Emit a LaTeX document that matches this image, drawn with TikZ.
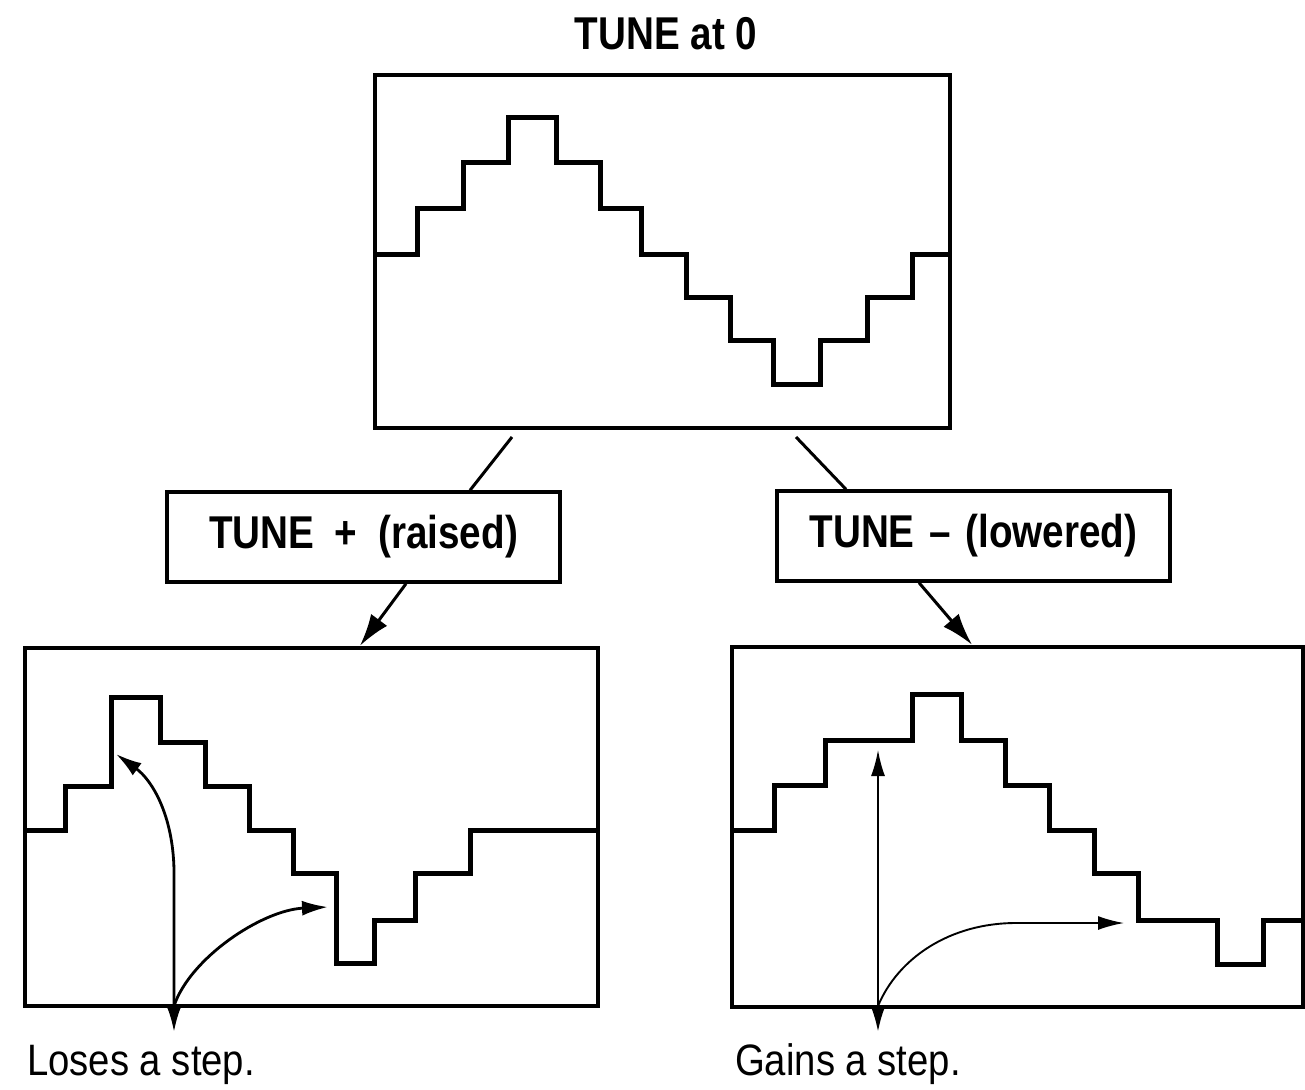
\documentclass[tikz,border=0pt]{standalone}
\usepackage{fontspec}
\setmainfont{Liberation Sans}
\newfontfamily\condfont[FakeStretch=0.84,Ligatures=TeX]{Liberation Sans}
\newfontfamily\condreg[FakeStretch=0.87,Ligatures=TeX]{Liberation Sans}
\usetikzlibrary{arrows.meta}
\begin{document}
\begin{tikzpicture}[x=1pt,y=-1pt,
  screen/.style={draw,line width=4.6pt,inner sep=0pt},
  lbl/.style={draw,line width=3.4pt,minimum width=393pt,minimum height=90pt,inner sep=0pt,
    font=\condfont\bfseries\fontsize{46}{50}\selectfont},
  wave/.style={line width=5pt,line join=miter},
  conn/.style={line width=3pt},
  tipconn/.style={line width=3pt,arrows={-Latex[length=32pt,width=20pt]}},
  note/.style={line width=2.8pt,arrows={-Latex[length=26pt,width=15pt]}},
  thinnote/.style={line width=1.9pt,arrows={-Latex[length=26pt,width=14pt]}},
  caption/.style={font=\condreg\fontsize{44}{48}\selectfont,inner sep=0pt,anchor=base west}]
\useasboundingbox (0,0) rectangle (1305,1089);
\clip (0,0) rectangle (1305,1089);

% title
\node[font=\condfont\bfseries\fontsize{46}{50}\selectfont,inner sep=0pt,anchor=base] (title) at (666,50) {TUNE at 0};

% screens
\node[screen,minimum width=575pt,minimum height=353pt] (top) at (662.5,251.5) {};
\node[screen,minimum width=573pt,minimum height=358pt] (bl) at (311.5,827) {};
\node[screen,minimum width=571pt,minimum height=360pt] (br) at (1017.5,827) {};

% label boxes
\node[lbl] (lblL) at (363.5,537) {TUNE\hspace{10pt} +\hspace{10pt} (raised)};
\node[lbl] (lblR) at (973.5,536) {TUNE\hspace{4pt} \textendash\hspace{4pt} (lowered)};

% staircases
\draw[wave] (375,254) -| (417,208) -| (463,162) -| (508,118) -| (556,162) -| (600,208)
  -| (641,254) -| (686,297) -| (730,340) -| (773,384) -| (820,340) -| (867,297)
  -| (912,254) -- (950,254);
\draw[wave] (25,830) -| (65,786) -| (111,697) -| (160,742) -| (205,786) -| (249,830)
  -| (293,873) -| (336,963) -| (374,920) -| (415,873) -| (470,830) -- (598,830);
\draw[wave] (732,830) -| (774,785) -| (825,740) -| (912,694) -| (961,740) -| (1005,785)
  -| (1049,830) -| (1094,873) -| (1138,920) -| (1217,964) -| (1263,920) -- (1303,920);

% connectors
\coordinate (tL) at (512,437);
\coordinate (tR) at (796,437);
\draw[conn] (tL) -- (lblL.north -| 470,0);
\draw[conn] (tR) -- (lblR.north -| 846,0);
\draw[tipconn] (lblL.south -| 406,0) -- (bl.north -| 360,0);
\draw[tipconn] (lblR.south -| 919,0) -- (br.north -| 972,0);

% annotations left
\coordinate (p1) at (174,1006);
\coordinate (d1) at (174,1032);
\coordinate (u1) at (116,754);
\coordinate (r1) at (328,907);
\draw[note] (p1) -- (d1);
\draw[note] (p1) -- (174,870) .. controls (173,815) and (152,780) .. (u1);
\draw[note] (p1) .. controls (190,958) and (262,910) .. (r1);

% annotations right
\coordinate (p2) at (878,1006);
\coordinate (d2) at (878,1032);
\coordinate (u2) at (878,750);
\coordinate (r2) at (1124,923);
\draw[note] (p2) -- (d2);
\draw[thinnote] (p2) -- (u2);
\draw[thinnote] (p2) .. controls (898,958) and (950,923) .. (1016,923) -- (r2);

% captions
\node[caption] (lose) at (27,1075) {Loses a step.};
\node[caption] (gain) at (735,1075) {Gains a step.};
\end{tikzpicture}
\end{document}
